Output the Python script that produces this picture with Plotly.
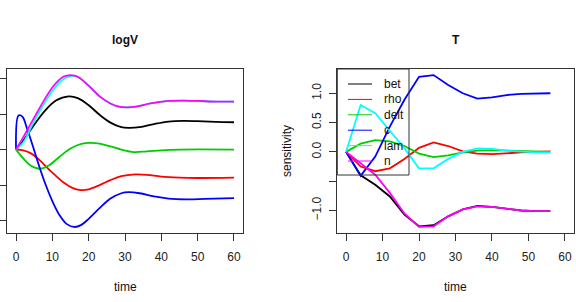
import plotly.graph_objects as go

W, H = 576, 302

# ---------------- data ----------------
series_names = ["bet", "rho", "delt", "c", "lam", "n"]
series_colors = ["#000000", "#FF0000", "#00CD00", "#0000FF", "#00FFFF", "#FF00FF"]

# Left panel (logV), smooth curves
bet_x = [0, 2, 5, 8, 11, 14.5, 17, 20, 23, 26, 29, 31, 34, 38, 42, 46, 50, 55, 60]
bet_y = [0, 0.25, 0.70, 1.10, 1.38, 1.50, 1.45, 1.25, 0.98, 0.76, 0.63, 0.61, 0.63, 0.72, 0.79, 0.81, 0.80, 0.78, 0.77]

rho_x = [0, 2, 4, 6, 8, 10, 13, 16, 18, 20, 23, 26, 29, 32.8, 36, 40, 45, 50, 60]
rho_y = [0, -0.02, -0.10, -0.25, -0.45, -0.65, -0.92, -1.10, -1.14, -1.12, -1.00, -0.86, -0.75, -0.70, -0.71, -0.76, -0.79, -0.80, -0.79]

delt_x = [0, 2, 4, 6.7, 9, 12, 15, 18, 20.3, 23, 26, 29, 32.4, 36, 40, 45, 60]
delt_y = [0, -0.25, -0.45, -0.54, -0.45, -0.20, 0.03, 0.16, 0.19, 0.17, 0.09, 0.00, -0.07, -0.05, -0.02, 0.00, 0.00]

c_x = [0, 0.7, 1.8, 3, 4, 5, 6, 8, 10, 12, 14, 16, 18, 20, 23, 26, 29, 31, 34, 38, 42, 47, 52, 60]
c_y = [0, 0.96, 0.92, 0.60, 0.30, -0.02, -0.35, -0.95, -1.45, -1.85, -2.10, -2.18, -2.12, -1.95, -1.65, -1.38, -1.23, -1.20, -1.23, -1.32, -1.38, -1.40, -1.39, -1.37]

lam_x = [0, 2, 5, 10, 13, 15, 16, 17, 20, 23, 26, 28, 30.5, 33, 37, 42, 46, 50, 55, 60]
lam_y = [0, 0.20, 0.80, 1.65, 1.98, 2.07, 2.08, 2.05, 1.80, 1.50, 1.30, 1.22, 1.19, 1.21, 1.30, 1.37, 1.38, 1.37, 1.35, 1.35]

n_x = [0, 2, 5, 10, 13, 15, 17, 20, 23, 26, 28, 30.5, 33, 37, 42, 46, 50, 55, 60]
n_y = [0, 0.35, 0.90, 1.75, 2.05, 2.10, 2.05, 1.80, 1.50, 1.30, 1.22, 1.19, 1.21, 1.30, 1.37, 1.38, 1.37, 1.35, 1.35]

left_x = [bet_x, rho_x, delt_x, c_x, lam_x, n_x]
left_y = [bet_y, rho_y, delt_y, c_y, lam_y, n_y]

# Right panel (T), sampled every 4 time units
t_time = [0, 4, 8, 12, 16, 20, 24, 28, 32, 36, 40, 44, 48, 52, 56]
t_bet = [0, -0.40, -0.56, -0.76, -1.07, -1.27, -1.25, -1.10, -0.98, -0.92, -0.94, -0.97, -1.00, -1.01, -1.01]
t_rho = [0, -0.25, -0.33, -0.28, -0.12, 0.07, 0.16, 0.10, 0.01, -0.03, -0.04, -0.02, -0.01, 0.00, 0.01]
t_delt = [0, 0.14, 0.20, 0.18, 0.10, -0.03, -0.09, -0.06, -0.01, 0.02, 0.03, 0.02, 0.01, 0.00, 0.00]
t_c = [0, -0.41, -0.08, 0.43, 0.89, 1.28, 1.31, 1.14, 1.00, 0.91, 0.93, 0.97, 0.99, 1.00, 1.00]
t_lam = [0, 0.80, 0.66, 0.35, 0.06, -0.28, -0.28, -0.12, 0.00, 0.06, 0.05, 0.02, 0.00, -0.01, -0.01]
t_n = [0, -0.19, -0.39, -0.70, -1.05, -1.28, -1.27, -1.10, -0.98, -0.93, -0.94, -0.97, -1.00, -1.01, -1.01]
right_y = [t_bet, t_rho, t_delt, t_c, t_lam, t_n]

x_ticks = [0, 10, 20, 30, 40, 50, 60]
left_y_ticks = [-2, -1, 0, 1, 2]
right_y_ticks = [-1.0, -0.5, 0.0, 0.5, 1.0]
right_y_ticktext = ["\u22121.0", "", "0.0", "0.5", "1.0"]

# ---------------- figure ----------------
fig = go.Figure()
for nm, col, xs, ys in zip(series_names, series_colors, left_x, left_y):
    fig.add_trace(go.Scatter(x=xs, y=ys, mode="lines", name=nm, showlegend=False,
                             line=dict(color=col, width=1.8, shape="spline", smoothing=1.0),
                             xaxis="x", yaxis="y"))
for nm, col, ys in zip(series_names, series_colors, right_y):
    fig.add_trace(go.Scatter(x=t_time, y=ys, mode="lines", name=nm, showlegend=False,
                             line=dict(color=col, width=1.8),
                             xaxis="x2", yaxis="y2"))

def px(v):
    return v / W

def py(v):
    return 1 - v / H

top, bot = 69, 233
FONT = "Liberation Sans, Arial, sans-serif"
common = dict(showgrid=False, zeroline=False, showline=True, mirror=True,
              linecolor="#333333", linewidth=1, ticks="outside", ticklen=7,
              tickcolor="#333333", tickwidth=1,
              tickfont=dict(family=FONT, size=12, color="#222222"))

fig.update_layout(
    width=W, height=H, margin=dict(l=0, r=0, t=0, b=0),
    paper_bgcolor="white", plot_bgcolor="white", showlegend=False,
    xaxis=dict(domain=[px(7.3), px(242.7)], range=[-2.4, 62.4], tickvals=x_ticks,
               anchor="y", ticklabelstandoff=6, **common),
    yaxis=dict(domain=[py(bot), py(top)], range=[-2.35, 2.27], tickvals=left_y_ticks,
               showticklabels=False, anchor="x", **common),
    xaxis2=dict(domain=[px(337.3), px(573.7)], range=[-2.4, 62.4], tickvals=x_ticks,
                anchor="y2", ticklabelstandoff=6, **common),
    yaxis2=dict(domain=[py(bot), py(top)], range=[-1.384, 1.414], tickvals=right_y_ticks,
                ticktext=right_y_ticktext, tickangle=-90, anchor="x2",
                ticklabelstandoff=4, **common),
)

ann = []
def text(x, y, s, size=12, bold=False, angle=0, xanchor="center"):
    ann.append(dict(x=px(x), y=py(y), xref="paper", yref="paper", text=("<b>%s</b>" % s) if bold else s,
                    showarrow=False, textangle=angle, xanchor=xanchor, yanchor="middle",
                    font=dict(family=FONT, size=size, color="#111111")))

text(125, 40, "logV", size=12, bold=True)
text(455.5, 40, "T", size=12, bold=True)
text(125, 287, "time")
text(455.5, 287, "time")
text(287, 151, "sensitivity", angle=-90)

# legend (manual, R-style)
shapes = [dict(type="rect", xref="paper", yref="paper", x0=px(337.3), x1=px(409), y0=py(175), y1=py(69),
               line=dict(color="#333333", width=1), fillcolor="rgba(0,0,0,0)")]
leg_y0, leg_dy = 84, 15.4
for i, (nm, col) in enumerate(zip(series_names, series_colors)):
    yy = leg_y0 + i * leg_dy
    shapes.append(dict(type="line", xref="paper", yref="paper", x0=px(348), x1=px(372), y0=py(yy), y1=py(yy),
                       line=dict(color=col, width=1)))
    text(382, yy, nm, xanchor="left")

fig.update_layout(annotations=ann, shapes=shapes)
fig.write_html("out.html")
